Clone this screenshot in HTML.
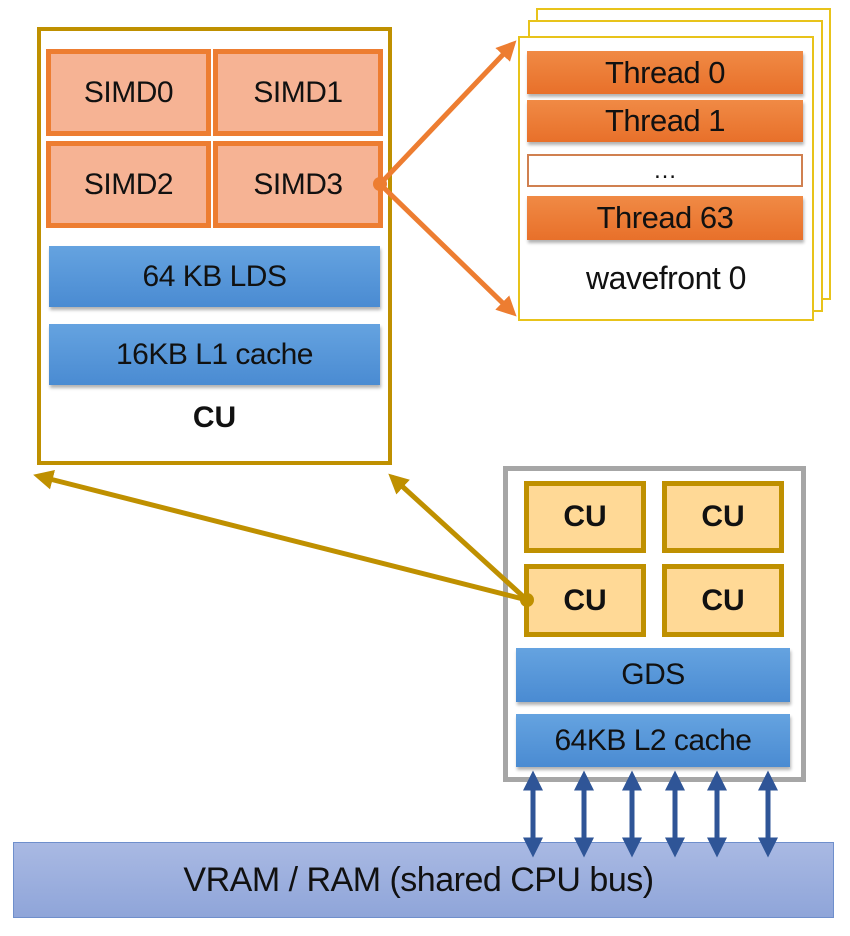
<!DOCTYPE html>
<html><head><style>
body{margin:0;width:850px;height:936px;background:#fff;position:relative;overflow:hidden;font-family:"Liberation Sans",sans-serif;}
.a{position:absolute;box-sizing:border-box;display:flex;align-items:center;justify-content:center;color:#111;}
.simd{background:#f6b394;border:5px solid #ed7d31;font-size:30px;letter-spacing:-0.5px;}
.blue{background:linear-gradient(#65a3e0,#4a8bd2);box-shadow:1px 3px 3px rgba(0,0,0,.3);font-size:30px;letter-spacing:-0.5px;}
.wf{border:2px solid #e8c31a;background:#fff;}
.th{background:linear-gradient(#f08a45,#e8702a);box-shadow:1px 3px 3px rgba(0,0,0,.3);font-size:31px;letter-spacing:-0.5px;}
.cu{background:#ffd996;border:5px solid #bf9000;font-size:30px;font-weight:bold;}
</style></head><body>
<div class="a" style="left:37px;top:27px;width:355px;height:438px;border:4px solid #bf9000;"></div>
<div class="a simd" style="left:46px;top:49px;width:165px;height:87px;">SIMD0</div>
<div class="a simd" style="left:213px;top:49px;width:170px;height:87px;">SIMD1</div>
<div class="a simd" style="left:46px;top:141px;width:165px;height:87px;">SIMD2</div>
<div class="a simd" style="left:213px;top:141px;width:170px;height:87px;">SIMD3</div>
<div class="a blue" style="left:49px;top:246px;width:331px;height:61px;">64 KB LDS</div>
<div class="a blue" style="left:49px;top:324px;width:331px;height:61px;">16KB L1 cache</div>
<div class="a" style="left:37px;top:398px;width:355px;height:40px;font-size:30px;font-weight:bold;">CU</div>
<div class="a wf" style="left:536px;top:8px;width:295px;height:292px;"></div>
<div class="a wf" style="left:528px;top:20px;width:295px;height:292px;"></div>
<div class="a wf" style="left:518px;top:36px;width:296px;height:285px;"></div>
<div class="a th" style="left:527px;top:51px;width:276px;height:43px;">Thread 0</div>
<div class="a th" style="left:527px;top:100px;width:276px;height:42px;">Thread 1</div>
<div class="a" style="left:527px;top:154px;width:276px;height:33px;border:2px solid #d08050;font-size:24px;">…</div>
<div class="a th" style="left:527px;top:196px;width:276px;height:44px;">Thread 63</div>
<div class="a" style="left:518px;top:258px;width:296px;height:40px;font-size:32px;letter-spacing:-0.5px;">wavefront 0</div>
<div class="a" style="left:503px;top:466px;width:303px;height:316px;border:5px solid #a6a6a6;"></div>
<div class="a cu" style="left:524px;top:481px;width:122px;height:72px;">CU</div>
<div class="a cu" style="left:662px;top:481px;width:122px;height:72px;">CU</div>
<div class="a cu" style="left:524px;top:564px;width:122px;height:73px;">CU</div>
<div class="a cu" style="left:662px;top:564px;width:122px;height:73px;">CU</div>
<div class="a blue" style="left:516px;top:648px;width:274px;height:54px;">GDS</div>
<div class="a blue" style="left:516px;top:714px;width:274px;height:53px;">64KB L2 cache</div>
<div class="a" style="left:13px;top:842px;width:821px;height:76px;background:linear-gradient(#a9b9e3,#8fa5d9);border:1px solid #6f8fcc;font-size:34px;letter-spacing:-0.5px;padding-right:10px;">VRAM / RAM (shared CPU bus)</div>
<svg width="850" height="936" style="position:absolute;left:0;top:0;">
<defs>
<marker id="o" markerWidth="4" markerHeight="4" refX="3" refY="2" orient="auto"><path d="M0,0L4,2L0,4z" fill="#ed7d31"/></marker>
<marker id="g" markerWidth="4" markerHeight="4" refX="3" refY="2" orient="auto"><path d="M0,0L4,2L0,4z" fill="#bf9000"/></marker>
<marker id="b" markerWidth="4" markerHeight="4" refX="2.5" refY="2" orient="auto-start-reverse"><path d="M0,0L4,2L0,4z" fill="#2f5597"/></marker>
</defs>
<g stroke="#ed7d31" stroke-width="5" fill="none">
<line x1="380" y1="184" x2="513" y2="44" marker-end="url(#o)"/>
<line x1="380" y1="184" x2="513" y2="313" marker-end="url(#o)"/>
</g>
<circle cx="380" cy="184" r="7" fill="#ed7d31"/>
<g stroke="#bf9000" stroke-width="5" fill="none">
<line x1="527" y1="600" x2="38" y2="476" marker-end="url(#g)"/>
<line x1="527" y1="600" x2="392" y2="477" marker-end="url(#g)"/>
</g>
<circle cx="527" cy="600" r="7" fill="#bf9000"/>
<g stroke="#2f5597" stroke-width="5" fill="none">
<line x1="533" y1="778" x2="533" y2="850" marker-start="url(#b)" marker-end="url(#b)"/>
<line x1="584" y1="778" x2="584" y2="850" marker-start="url(#b)" marker-end="url(#b)"/>
<line x1="632" y1="778" x2="632" y2="850" marker-start="url(#b)" marker-end="url(#b)"/>
<line x1="675" y1="778" x2="675" y2="850" marker-start="url(#b)" marker-end="url(#b)"/>
<line x1="717" y1="778" x2="717" y2="850" marker-start="url(#b)" marker-end="url(#b)"/>
<line x1="768" y1="778" x2="768" y2="850" marker-start="url(#b)" marker-end="url(#b)"/>
</g>
</svg>
</body></html>
